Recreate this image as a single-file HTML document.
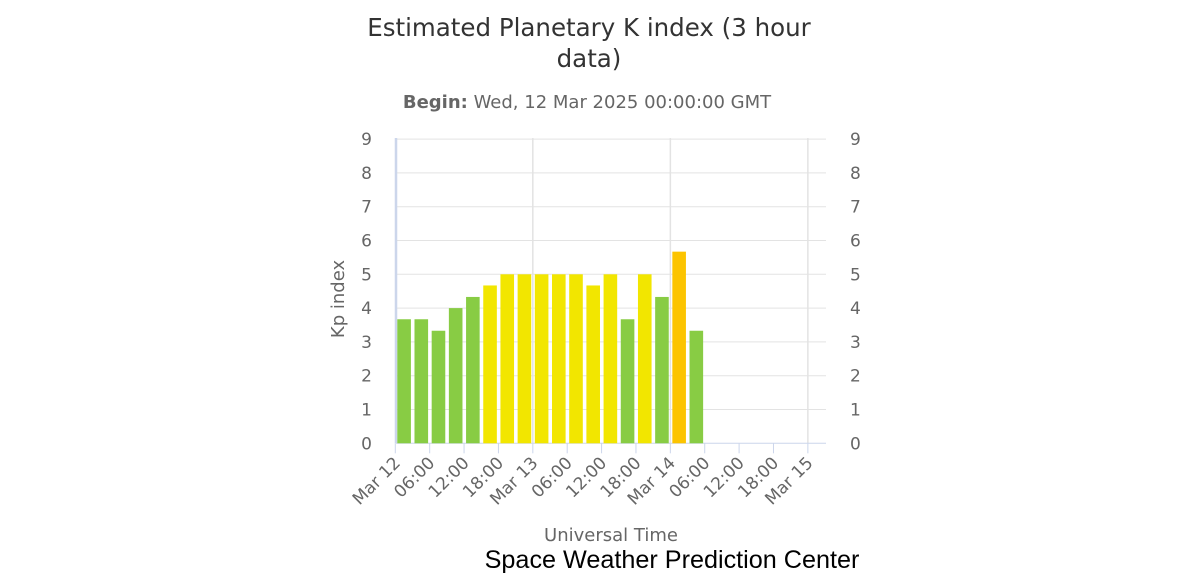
<!DOCTYPE html>
<html><head><meta charset="utf-8"><style>
html,body{margin:0;padding:0;background:#fff;}
svg{display:block;font-family:"DejaVu Sans","Liberation Sans",sans-serif;}
</style></head><body>
<svg id="s" width="1200" height="576" viewBox="0 0 1200 576" xmlns="http://www.w3.org/2000/svg">
<text x="589" y="36" text-anchor="middle" font-size="24.5" fill="#333">Estimated Planetary K index (3 hour</text>
<text x="589" y="67" text-anchor="middle" font-size="24.5" fill="#333">data)</text>
<text x="587" y="108" text-anchor="middle" font-size="18" fill="#666"><tspan font-weight="bold">Begin:</tspan> Wed, 12 Mar 2025 00:00:00 GMT</text>
<g id="grid"></g>
<g id="bars"></g>
<g id="labels" font-size="17" fill="#666"></g>
<text transform="translate(344,299) rotate(-90)" text-anchor="middle" font-size="18" fill="#666">Kp index</text>
<text x="611" y="541" text-anchor="middle" font-size="18" fill="#666">Universal Time</text>
<text x="672" y="568" text-anchor="middle" font-size="25.2" fill="#000" font-family="Liberation Sans, sans-serif">Space Weather Prediction Center</text>
</svg>
<script>
var NS="http://www.w3.org/2000/svg";
function el(p,t,a,txt){var e=document.createElementNS(NS,t);for(var k in a)e.setAttribute(k,a[k]);if(txt!=null)e.textContent=txt;document.getElementById(p).appendChild(e);return e;}
var y0=443.3,u=33.8,x0=395.3,six=34.38;
for(var i=1;i<=9;i++){var y=y0-i*u;el("grid","line",{x1:396,x2:826,y1:y,y2:y,stroke:"#e3e3e3","stroke-width":1});}
[1,2,3].forEach(function(d){var x=x0+d*4*six;el("grid","line",{x1:x,x2:x,y1:138,y2:y0,stroke:"#e3e3e3","stroke-width":1.5});});
el("grid","line",{x1:396,x2:396,y1:138,y2:y0,stroke:"#ccd6eb","stroke-width":2.5});
el("grid","line",{x1:396,x2:826,y1:y0,y2:y0,stroke:"#ccd6eb","stroke-width":1});
for(var i=0;i<=12;i++){var x=x0+i*six;el("grid","line",{x1:x,x2:x,y1:y0,y2:y0+10,stroke:"#ccd6eb","stroke-width":1});}
for(var i=0;i<=9;i++){var y=y0-i*u+6;el("labels","text",{x:372,y:y,"text-anchor":"end"},i);el("labels","text",{x:850,y:y},i);}
var lab=["Mar 12","06:00","12:00","18:00","Mar 13","06:00","12:00","18:00","Mar 14","06:00","12:00","18:00","Mar 15"];
lab.forEach(function(t,i){var x=x0+i*six+6;el("labels","text",{x:x,y:464,"text-anchor":"end",transform:"rotate(-45 "+x+" 464)"},t);});
var v=[3.67,3.67,3.33,4,4.33,4.67,5,5,5,5,5,4.67,5,3.67,5,4.33,5.67,3.33];
v.forEach(function(k,i){var c=k>=5.5?"#fcc400":(k>=4.5?"#f2e600":"#88cc44");var h=k*u;el("bars","rect",{x:x0+i*six/2+2,y:y0-h,width:13.6,height:h,fill:c});});
</script>
</body></html>
